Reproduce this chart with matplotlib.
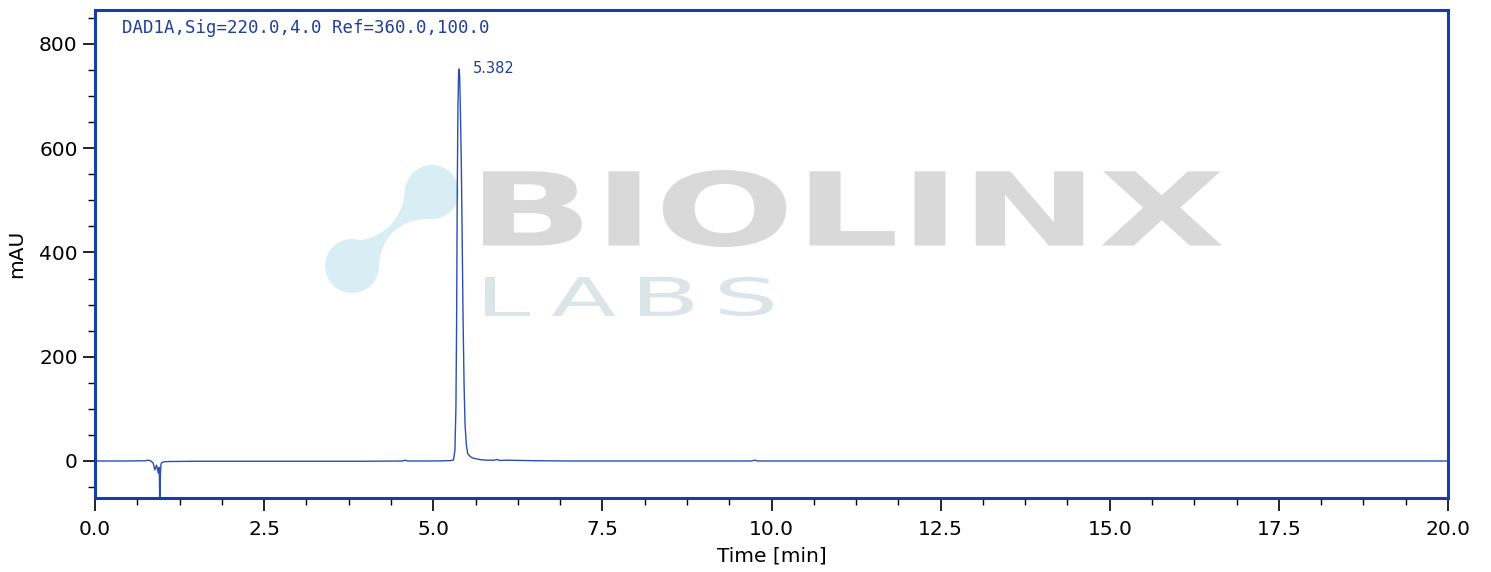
import numpy as np
import matplotlib.pyplot as plt
from matplotlib.patches import Circle, PathPatch
from matplotlib.path import Path
from matplotlib.textpath import TextPath
from matplotlib.font_manager import FontProperties
from matplotlib.transforms import Affine2D
from matplotlib.ticker import AutoMinorLocator

# Chromatogram (time in min, signal in mAU)
time_min = [0.0, 0.5, 0.75, 0.78, 0.82, 0.86, 0.885, 0.91, 0.935, 0.95, 0.96, 0.965, 0.975,
            0.99, 1.02, 1.1, 1.5, 2.0, 3.0, 4.0, 4.55, 4.58, 4.62, 5.0, 5.2, 5.27, 5.30,
            5.32, 5.335, 5.345, 5.355, 5.365, 5.375, 5.382, 5.39, 5.40, 5.415, 5.43, 5.44,
            5.455, 5.47, 5.49, 5.51, 5.55, 5.60, 5.70, 5.80, 5.90, 5.94, 5.98, 6.10, 6.50,
            7.0, 8.0, 9.0, 9.7, 9.75, 9.8, 11.0, 13.0, 15.0, 17.0, 19.0, 20.0]
signal_mau = [0.0, 0.0, 0.5, 1.5, 0.5, -4.0, -17.0, -8.0, -23.0, -12.0, -120.0, -30.0, -6.0,
              -3.0, -1.5, -1.0, -0.5, -0.5, -0.5, -0.5, 0.0, 1.5, 0.0, 0.0, 0.5, 1.0, 2.0,
              20.0, 100.0, 260.0, 520.0, 680.0, 745.0, 752.0, 740.0, 680.0, 570.0, 400.0, 280.0,
              150.0, 70.0, 30.0, 14.0, 8.0, 5.0, 2.5, 1.5, 1.5, 3.0, 1.0, 1.5, 0.5,
              0.0, 0.0, 0.0, 0.0, 1.5, 0.0, 0.0, 0.0, 0.0, 0.0, 0.0, 0.0]
peak_time = 5.382
peak_height = 752.0
signal_title = 'DAD1A,Sig=220.0,4.0 Ref=360.0,100.0'

W, H = 1491, 572
fig = plt.figure(figsize=(W / 100, H / 100), dpi=100)

# watermark layer in pixel coordinates, behind the plot
bg = fig.add_axes([0, 0, 1, 1], zorder=0)
bg.set_xlim(0, W)
bg.set_ylim(H, 0)
bg.axis('off')


def place_text(ax, s, x0, x1, ytop, ybot, color, weight='normal'):
    tp = TextPath((0, 0), s, size=100, prop=FontProperties(family='DejaVu Sans', weight=weight))
    ext = tp.get_extents()
    sx = (x1 - x0) / ext.width
    sy = (ybot - ytop) / ext.height
    tr = Affine2D().translate(-ext.x0, -ext.y0).scale(sx, -sy).translate(x0, ybot)
    ax.add_patch(PathPatch(tr.transform_path(tp), fc=color, ec='none'))


place_text(bg, 'BIOLINX', 483, 1222, 170, 247, '#d9d9d9', weight='bold')
for ch, a, b in [('L', 485, 530), ('A', 552, 615), ('B', 640, 693), ('S', 720, 773)]:
    place_text(bg, ch, a, b, 277, 316, '#dbe4e6')

logo_col = '#d9edf5'
bg.add_patch(Circle((432, 192), 27, fc=logo_col, ec='none'))
bg.add_patch(Circle((352, 266), 27, fc=logo_col, ec='none'))
neck = Path([(405, 185), (405, 228), (372, 243), (345, 241),
             (352, 255), (372, 262), (379, 270),
             (379, 235), (402, 218), (432, 219), (420, 200), (410, 190), (405, 185)],
            [Path.MOVETO, Path.CURVE4, Path.CURVE4, Path.CURVE4,
             Path.CURVE4, Path.CURVE4, Path.CURVE4,
             Path.CURVE4, Path.CURVE4, Path.CURVE4, Path.CURVE4, Path.CURVE4, Path.CURVE4])
bg.add_patch(PathPatch(neck, fc=logo_col, ec='none'))

ax = fig.add_axes([95 / W, 74 / H, 1353 / W, 488 / H], zorder=1)
ax.patch.set_alpha(0)

line_col = '#2a4fb0'
text_col = '#1f3f99'
ax.plot(time_min, signal_mau, color=line_col, lw=1.0)

ax.set_xlim(0, 20)
ax.set_ylim(-71, 865)
ax.set_xticks(np.arange(0, 20.1, 2.5))
ax.set_yticks([0, 200, 400, 600, 800])
ax.xaxis.set_minor_locator(AutoMinorLocator(4))
ax.yaxis.set_minor_locator(AutoMinorLocator(4))
ax.tick_params(which='major', length=9, width=1.2, labelsize=14.5)
ax.tick_params(axis='x', which='major', pad=7)
ax.tick_params(which='minor', length=5, width=1.0)
for sp in ax.spines.values():
    sp.set_color('#173ea5')
    sp.set_linewidth(2.2)

ax.set_xlabel('Time [min]', fontsize=14.5, labelpad=5)
ax.set_ylabel('mAU', fontsize=14.5, labelpad=9)

ax.text(0.02, 0.982, signal_title, transform=ax.transAxes, ha='left', va='top',
        family='DejaVu Sans Mono', fontsize=12.5, color=text_col)
ax.annotate(f'{peak_time:.3f}', (peak_time, peak_height), xytext=(10, 0),
            textcoords='offset points', ha='left', va='center', fontsize=10.5, color=text_col)

fig.savefig('out.png', dpi=100)
